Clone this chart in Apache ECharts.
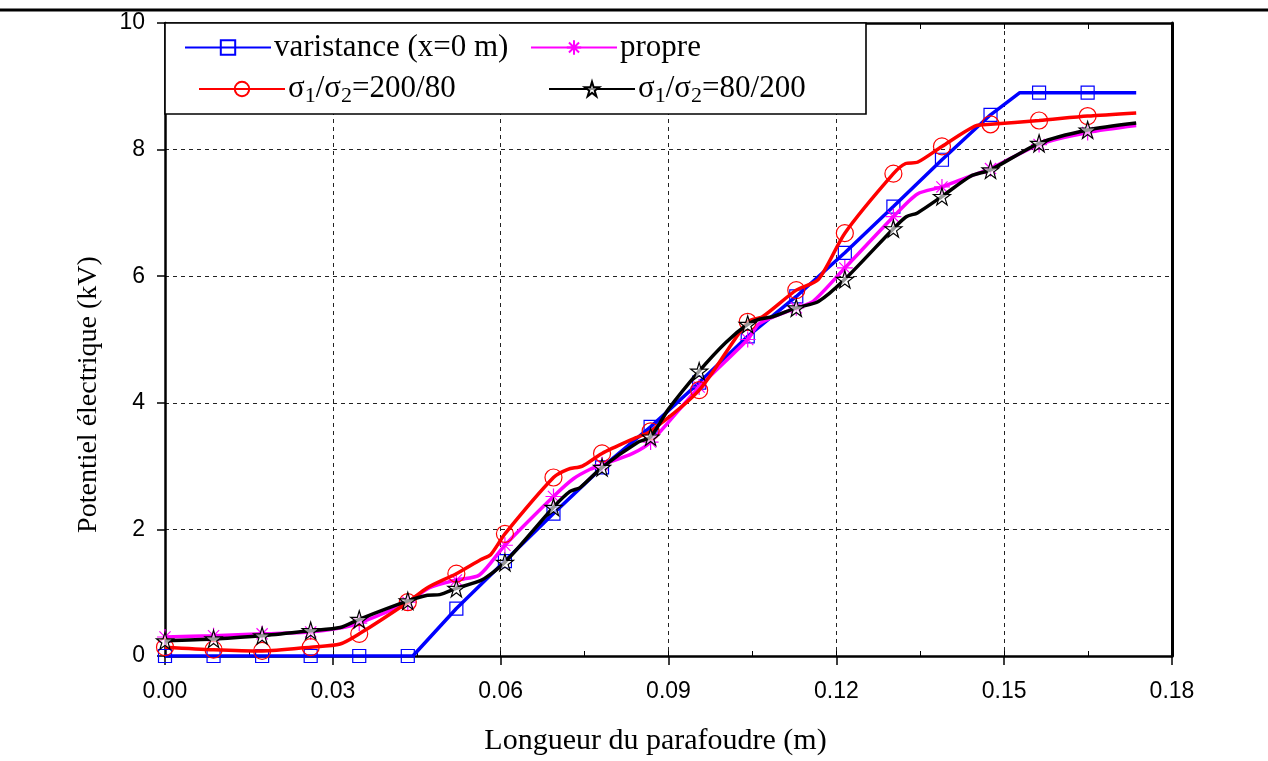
<!DOCTYPE html>
<html><head><meta charset="utf-8">
<script src="https://cdn.jsdelivr.net/npm/echarts@6/dist/echarts.min.js"></script>
<style>html,body{margin:0;padding:0;background:#fff}#c{width:1268px;height:761px}</style>
</head><body><div id="c"></div>
<script>
// ---- data ----
const markerX = [0, 0.00868, 0.01736, 0.02604, 0.03472, 0.0434, 0.05208, 0.06076, 0.06944, 0.07812,
  0.0868, 0.09548, 0.10416, 0.11284, 0.12152, 0.1302, 0.13888, 0.14756, 0.15624, 0.16492];

const blueX = [0, 0.00868, 0.01736, 0.02604, 0.03472, 0.0434, 0.0443, 0.05208, 0.06076, 0.06944, 0.07812,
  0.0868, 0.09548, 0.10416, 0.11284, 0.12152, 0.1302, 0.13888, 0.14756, 0.1528, 0.15624, 0.16492, 0.1736];
const blueY = [0, 0, 0, 0, 0, 0, 0, 0.75, 1.5, 2.25, 2.98,
  3.62, 4.32, 5.05, 5.68, 6.37, 7.1, 7.84, 8.55, 8.9, 8.9, 8.9, 8.9];

const magX = [0, 0.00868, 0.01736, 0.02604, 0.0313, 0.03472, 0.0434, 0.0473, 0.05208, 0.0562, 0.06076,
  0.06944, 0.073, 0.076, 0.07812, 0.0836, 0.0868, 0.09548, 0.10416, 0.1062, 0.11284, 0.1158, 0.12152,
  0.1302, 0.1345, 0.13888, 0.1436, 0.14756, 0.15624, 0.16492, 0.1736];
const magY = [0.30, 0.32, 0.35, 0.38, 0.44, 0.52, 0.85, 1.08, 1.2, 1.28, 1.75,
  2.52, 2.8, 2.95, 3.02, 3.2, 3.38, 4.25, 5.0, 5.25, 5.5, 5.6, 6.13,
  6.94, 7.3, 7.41, 7.57, 7.7, 8.08, 8.27, 8.38];

const redX = [0, 0.00868, 0.01736, 0.02604, 0.0313, 0.03472, 0.0434, 0.0469, 0.05208, 0.0564, 0.0582, 0.06076,
  0.06944, 0.072, 0.0746, 0.07812, 0.0842, 0.0868, 0.09548, 0.10416, 0.1068, 0.11284, 0.1168, 0.12152,
  0.1302, 0.1324, 0.1345, 0.13888, 0.145, 0.14756, 0.15624, 0.16492, 0.1736];
const redY = [0.14, 0.10, 0.08, 0.14, 0.19, 0.35, 0.85, 1.08, 1.30, 1.52, 1.6, 1.93,
  2.82, 2.95, 3.0, 3.2, 3.45, 3.55, 4.2, 5.28, 5.36, 5.78, 5.95, 6.68,
  7.62, 7.78, 7.8, 8.05, 8.38, 8.40, 8.46, 8.53, 8.58];

const blackX = [0, 0.00868, 0.01736, 0.02604, 0.0313, 0.03472, 0.0434, 0.0469, 0.0491, 0.05208, 0.0566, 0.06076,
  0.06944, 0.0724, 0.0742, 0.07812, 0.0846, 0.0868, 0.09, 0.09548, 0.1002, 0.10416, 0.1062, 0.1086, 0.11284,
  0.1168, 0.12152, 0.1302, 0.1325, 0.1345, 0.13888, 0.144, 0.14756, 0.15624, 0.16492, 0.1736];
const blackY = [0.24, 0.27, 0.32, 0.40, 0.45, 0.58, 0.87, 0.96, 0.97, 1.07, 1.2, 1.48,
  2.35, 2.6, 2.66, 2.98, 3.38, 3.46, 3.9, 4.5, 4.95, 5.24, 5.32, 5.36, 5.5,
  5.6, 5.95, 6.75, 6.94, 7.0, 7.26, 7.58, 7.68, 8.1, 8.31, 8.42];

const xTicks = [0, 0.03, 0.06, 0.09, 0.12, 0.15, 0.18];
const yTicks = [0, 2, 4, 6, 8, 10];

const names = ['varistance (x=0 m)', 'propre', 'σ1/σ2=200/80', 'σ1/σ2=80/200'];

// ---- helpers ----
const pair = (xs, ys) => xs.map((x, i) => [x, ys[i]]);
const isMarker = (x) => markerX.some(m => Math.abs(m - x) < 1e-7);
const sizeFn = (s) => (v) => isMarker(v[0]) ? s : 0;

const STAR = 'path://M50,0 L61,35 L98,35 L68,57 L79,91 L50,70 L21,91 L32,57 L2,35 L39,35 Z';
const AST = 'path://M0,50 L100,50 M50,0 L50,100 M15,15 L85,85 M15,85 L85,15';

const serif = 'Liberation Serif';
const sans = 'Liberation Sans';

const richLegend = {
  a: { fontFamily: serif, fontSize: 31, color: '#000', lineHeight: 36 },
  b: { fontFamily: serif, fontSize: 22, color: '#000', lineHeight: 36, verticalAlign: 'bottom', padding: [14, 0, 0, 0] }
};
function legendFmt(n) {
  if (n.startsWith('σ1')) {
    const rest = n.slice(n.indexOf('='));
    return '{a|σ}{b|1}{a|/σ}{b|2}{a|' + rest + '}';
  }
  return '{a|' + n + '}';
}
function mkLegend(name, left, top) {
  return {
    data: [name], left: left, top: top, orient: 'horizontal',
    itemWidth: 86, itemHeight: 18, itemGap: 0,
    padding: 0, selectedMode: false,
    formatter: legendFmt,
    textStyle: { rich: richLegend, padding: [0, 0, 0, -2] }
  };
}

const chart = echarts.init(document.getElementById('c'), null, { renderer: 'canvas' });
chart.setOption({
  backgroundColor: '#fff',
  animation: false,
  grid: { left: 165, right: 96, top: 23, bottom: 104, containLabel: false },
  legend: [
    mkLegend(names[0], 184, 32),
    mkLegend(names[1], 530, 32),
    mkLegend(names[2], 198, 71),
    mkLegend(names[3], 548, 71)
  ],
  graphic: [
    { type: 'line', shape: { x1: 0, y1: 10, x2: 1268, y2: 10 }, style: { stroke: '#000', lineWidth: 3 }, z: 10 },
    { type: 'rect', shape: { x: 165, y: 23, width: 701, height: 91 }, style: { fill: '#fff', stroke: '#000', lineWidth: 1.6 }, z: 3 }
  ],
  xAxis: [
    {
      type: 'value', min: 0, max: 0.18, interval: 0.03, position: 'bottom',
      name: 'Longueur du parafoudre (m)', nameLocation: 'middle', nameGap: 70,
      nameTextStyle: { fontFamily: serif, fontSize: 30, color: '#000', padding: [0, 26, 0, 0] },
      axisLine: { onZero: false, lineStyle: { color: '#000', width: 2.5 } },
      axisTick: { show: true, inside: false, length: 9, lineStyle: { color: '#000', width: 1.5 } },
      axisLabel: { fontFamily: sans, fontSize: 23, color: '#000', margin: 24, formatter: v => v.toFixed(2) },
      splitLine: { show: true, lineStyle: { color: '#222', type: [4, 4], width: 1 } }
    },
    {
      type: 'value', min: 0, max: 0.18, interval: 0.015, position: 'bottom',
      axisLine: { show: false, onZero: false },
      axisTick: { show: true, inside: true, length: 5, lineStyle: { color: '#000', width: 1 } },
      axisLabel: { show: false }, splitLine: { show: false }
    },
    {
      type: 'value', min: 0, max: 0.18, interval: 0.015, position: 'top',
      axisLine: { show: true, onZero: false, lineStyle: { color: '#000', width: 2.5 } },
      axisTick: { show: true, inside: true, length: 6, lineStyle: { color: '#000', width: 1 } },
      axisLabel: { show: false }, splitLine: { show: false }
    }
  ],
  yAxis: [
    {
      type: 'value', min: 0, max: 10, interval: 2, position: 'left',
      name: 'Potentiel électrique (kV)', nameLocation: 'middle', nameGap: 62, nameRotate: 90,
      nameTextStyle: { fontFamily: serif, fontSize: 28, color: '#000', padding: [0, 0, 0, -110] },
      axisLine: { onZero: false, lineStyle: { color: '#000', width: 2.5 } },
      axisTick: { show: true, inside: false, length: 8, lineStyle: { color: '#000', width: 1.5 } },
      axisLabel: { fontFamily: sans, fontSize: 23, color: '#000', margin: 20 },
      splitLine: { show: true, lineStyle: { color: '#222', type: [4, 4], width: 1 } }
    },
    {
      type: 'value', min: 0, max: 10, interval: 2, position: 'right',
      axisLine: { show: true, onZero: false, lineStyle: { color: '#000', width: 3 } },
      axisTick: { show: false }, axisLabel: { show: false }, splitLine: { show: false }
    }
  ],
  series: [
    {
      name: names[0], type: 'line', data: pair(blueX, blueY), xAxisIndex: 0, yAxisIndex: 0,
      symbol: 'rect', symbolSize: sizeFn(13), showAllSymbol: true, smooth: false,
      lineStyle: { color: '#0000ff', width: 3.5 },
      itemStyle: { color: 'rgba(0,0,0,0)', borderColor: '#0000ff', borderWidth: 1.2 },
      z: 2
    },
    {
      name: names[1], type: 'line', data: pair(magX, magY), xAxisIndex: 0, yAxisIndex: 0,
      symbol: AST, symbolSize: sizeFn(16), showAllSymbol: true, smooth: 0.25,
      lineStyle: { color: '#ff00ff', width: 3.5 },
      itemStyle: { color: 'rgba(0,0,0,0)', borderColor: '#ff00ff', borderWidth: 1.2 },
      z: 3
    },
    {
      name: names[2], type: 'line', data: pair(redX, redY), xAxisIndex: 0, yAxisIndex: 0,
      symbol: 'circle', symbolSize: sizeFn(17), showAllSymbol: true, smooth: 0.25,
      lineStyle: { color: '#ff0000', width: 3.5 },
      itemStyle: { color: 'rgba(0,0,0,0)', borderColor: '#ff0000', borderWidth: 1.2 },
      z: 4
    },
    {
      name: names[3], type: 'line', data: pair(blackX, blackY), xAxisIndex: 0, yAxisIndex: 0,
      symbol: STAR, symbolSize: sizeFn(17), showAllSymbol: true, smooth: 0.25,
      lineStyle: { color: '#000000', width: 3.5 },
      itemStyle: { color: 'rgba(255,255,255,0.6)', borderColor: '#000', borderWidth: 1.2 },
      z: 5
    }
  ]
});
</script></body></html>
